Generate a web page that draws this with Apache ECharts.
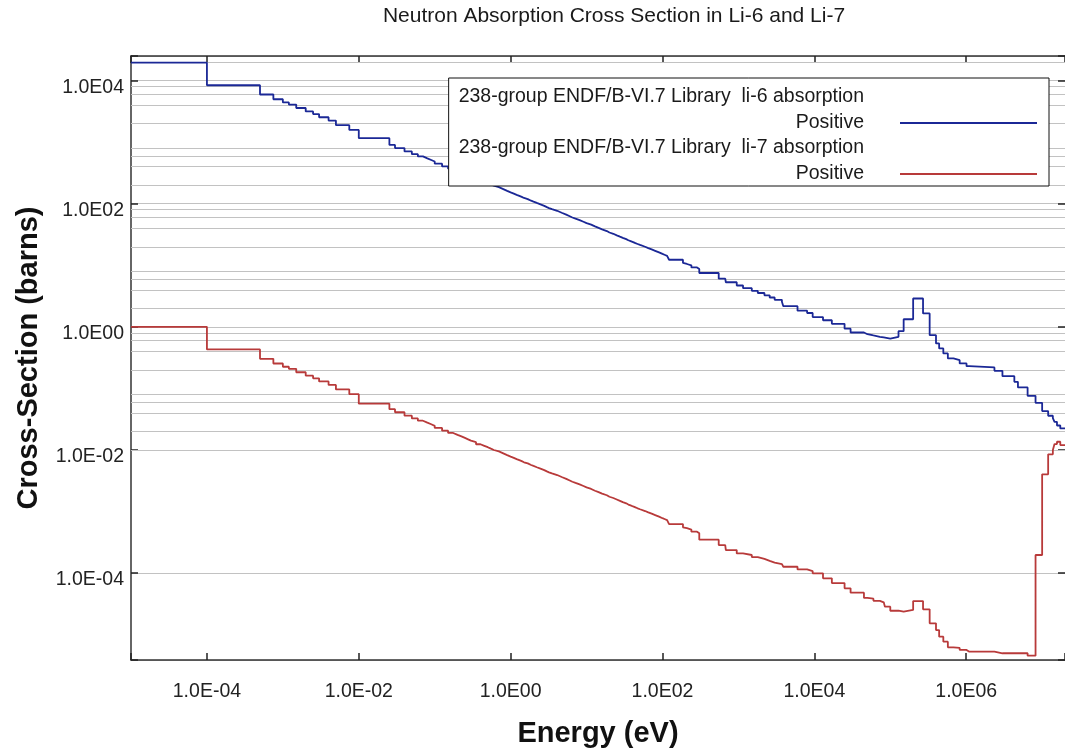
<!DOCTYPE html>
<html>
<head>
<meta charset="utf-8">
<script src="https://cdn.jsdelivr.net/npm/echarts@6/dist/echarts.min.js"></script>
<style>
html, body { margin: 0; padding: 0; background: #fff; }
#chart { width: 1065px; height: 750px; }
</style>
</head>
<body>
<div id="chart"></div>
<script>
// ---------------- data ----------------
const chartTitle = 'Neutron Absorption Cross Section in Li-6 and Li-7';
const xAxisName = 'Energy (eV)';
const yAxisName = 'Cross-Section (barns)';
const seriesNames = [
  '238-group ENDF/B-VI.7 Library  li-6 absorption',
  '238-group ENDF/B-VI.7 Library  li-7 absorption'
];
const seriesSubLabel = 'Positive';

const xTickValues = [1e-4, 1e-2, 1, 1e2, 1e4, 1e6];
const xTickLabels = ['1.0E-04', '1.0E-02', '1.0E00', '1.0E02', '1.0E04', '1.0E06'];
const yTickValues = [1e-4, 1e-2, 1, 1e2, 1e4];
const yTickLabels = ['1.0E-04', '1.0E-02', '1.0E00', '1.0E02', '1.0E04'];

const xMin = 1e-5, xMax = 2e7;
const yMin = 3.88e-6, yMax = 2.51e4;

// group boundaries (eV), ascending; group i spans energyBounds[i]..energyBounds[i+1]
const energyBounds = [
  1e-5, 1e-4, 5e-4, 7.5e-4, 1e-3, 1.2e-3, 1.5e-3, 2e-3, 2.5e-3, 3e-3,
  4e-3, 5e-3, 7.5e-3, 1e-2, 2.53e-2, 3e-2, 4e-2, 5e-2, 6e-2, 7e-2,
  8e-2, 9e-2, 0.1, 0.125, 0.15, 0.175, 0.2, 0.225, 0.25, 0.275,
  0.3, 0.35, 0.4, 0.45, 0.5, 0.55, 0.6, 0.7, 0.8, 0.9,
  1.0, 1.1, 1.2, 1.3, 1.4, 1.5, 1.68, 1.86, 2.0, 2.21,
  2.47, 2.77, 3.0, 3.2, 3.5, 4.1, 4.7, 5.4, 6.0, 6.5,
  7.15, 8.1, 9.1, 10, 11.5, 12.9, 14.4, 16, 18.5, 20,
  22.5, 25, 27.5, 30, 33.25, 35.5, 38, 41, 44, 47,
  50.6, 53.4, 59, 65, 72, 80, 90, 100, 108, 115,
  122, 186, 192.5, 210, 240, 285, 305, 550, 670, 683,
  950, 1150, 1500, 1800, 2200, 2580, 3000, 3740, 3900, 6000,
  8030, 9500, 13000, 17000, 25000, 30000, 45000, 50000, 60000, 73000,
  82000, 85000, 100000, 128300, 150000, 200000, 270000, 330000, 400000, 440000,
  499520, 573000, 679000, 820000, 1010000, 1100000, 2354000, 2479000, 3000000, 4304000,
  4800000, 6434000, 8187300, 10000000, 12000000, 13840000, 14550000, 15683000, 17333000,
  20000000
];

// Li-6 group absorption cross sections (barns)
const li6 = [
  19600, 8400, 5950, 4980, 4420, 4080, 3590, 3160, 2860, 2540,
  2240, 1890, 1580, 1160, 901, 803, 707, 639, 587, 546,
  513, 485, 447, 404, 371, 346, 325, 307, 292, 279,
  263, 244, 230, 217, 206, 197, 186, 173, 162, 153,
  146, 139.5, 134, 129, 124, 119, 112, 108, 103, 97.8,
  92.4, 88.0, 84.9, 81.7, 76.8, 71.4, 66.6, 62.7, 59.8, 57.3,
  54.2, 51.0, 48.4, 45.7, 42.8, 40.5, 38.4, 36.0, 34.1, 32.5,
  30.7, 29.2, 27.9, 26.6, 25.5, 24.7, 23.8, 22.9, 22.2, 21.4,
  20.7, 20.0, 19.0, 18.1, 17.2, 16.2, 15.3, 14.7, 14.2, 13.7,
  12.3, 10.9, 10.5, 9.98, 9.24, 8.71, 7.5, 6.07, 5.75, 5.3,
  4.7, 4.25, 3.85, 3.55, 3.25, 3.0, 2.75, 2.55, 2.17, 1.83,
  1.68, 1.44, 1.28, 1.12, 0.935, 0.81, 0.76, 0.725, 0.69, 0.675,
  0.655, 0.645, 0.69, 0.851, 1.33, 2.89, 1.65, 0.733, 0.538, 0.446,
  0.37, 0.307, 0.288, 0.255, 0.23, 0.219, 0.193, 0.193, 0.158, 0.128,
  0.104, 0.0758, 0.0584, 0.0428, 0.036, 0.033, 0.0287, 0.025, 0.0224
];

// Li-7 group absorption cross sections (barns)
const li7 = [
  1.0, 0.43, 0.303, 0.254, 0.225, 0.208, 0.183, 0.161, 0.146, 0.130,
  0.114, 0.0964, 0.0806, 0.0565, 0.046, 0.041, 0.0361, 0.0326, 0.0299, 0.0278,
  0.0262, 0.0247, 0.0228, 0.0206, 0.0189, 0.0176, 0.0166, 0.0157, 0.0149, 0.0142,
  0.0134, 0.0124, 0.0117, 0.0111, 0.0105, 0.0100, 0.00949, 0.00882, 0.00826, 0.0078,
  0.00745, 0.00711, 0.00683, 0.00658, 0.00632, 0.00607, 0.00571, 0.00551, 0.00525, 0.00499,
  0.00471, 0.00449, 0.00433, 0.00417, 0.00392, 0.00364, 0.0034, 0.0032, 0.00305, 0.00292,
  0.00276, 0.0026, 0.00247, 0.00233, 0.00218, 0.00207, 0.00196, 0.00184, 0.00174, 0.00166,
  0.00157, 0.00149, 0.00142, 0.00136, 0.0013, 0.00126, 0.00121, 0.00117, 0.00113, 0.00109,
  0.00106, 0.00102, 0.00097, 0.000923, 0.000877, 0.000826, 0.00078, 0.00075, 0.000724, 0.000699,
  0.000627, 0.000556, 0.000536, 0.000509, 0.000471, 0.000444, 0.00035, 0.000285, 0.000275, 0.000237,
  0.000209, 0.000197, 0.000182, 0.00017, 0.000158, 0.000148, 0.00014, 0.000136, 0.000127, 0.000115,
  0.000108, 0.0000993, 0.0000824, 0.000069, 0.0000566, 0.0000481, 0.0000395, 0.0000385, 0.0000355, 0.0000335,
  0.0000312, 0.0000285, 0.0000245, 0.0000236, 0.0000252, 0.0000352, 0.0000258, 0.0000153, 0.0000119, 0.00000928,
  0.0000077, 0.00000624, 0.0000061, 0.00000565, 0.0000053, 0.0000053, 0.0000053, 0.00000499, 0.00000499, 0.00000499,
  0.00000499, 0.00000456, 0.000197, 0.00402, 0.0085, 0.01, 0.0125, 0.0136, 0.012
];

// ---------------- helpers ----------------
function stepData(vals) {
  const d = vals.map((v, i) => [energyBounds[i], v]);
  d.push([energyBounds[vals.length], vals[vals.length - 1]]);
  return d;
}
function tickLabel(values, labels) {
  return function (v) {
    for (let i = 0; i < values.length; i++) {
      if (Math.abs(Math.log10(v) - Math.log10(values[i])) < 1e-6) return labels[i];
    }
    return '';
  };
}
// light horizontal grid at 2,4,6,8 x 10^n
const minorGrid = [];
for (let n = -4; n <= 4; n++) {
  [2, 4, 6, 8].forEach(m => { const v = m * Math.pow(10, n); if (v < yMax) minorGrid.push(v); });
}

const FONT = 'Liberation Sans, Arial, sans-serif';
const gridColor = '#c2c2c2';
const frameColor = '#333';
const blue = '#1b2896';
const red = '#b83a3a';

const chart = echarts.init(document.getElementById('chart'), null, { renderer: 'canvas' });

const commonTick = { show: true, inside: true, length: 7, lineStyle: { color: '#222', width: 1.5 } };

chart.setOption({
  animation: false,
  backgroundColor: '#fff',
  title: {
    text: chartTitle,
    left: 614,
    top: 5,
    padding: 0,
    textAlign: 'center',
    textStyle: { fontFamily: FONT, fontSize: 21, fontWeight: 'normal', color: '#1a1a1a', lineHeight: 22 }
  },
  legend: {
    orient: 'vertical',
    right: 16,
    top: 78,
    align: 'right',
    icon: 'rect',
    itemWidth: 137,
    itemHeight: 2,
    itemGap: -27,
    padding: [6, 12, -27, 10],
    backgroundColor: '#fff',
    borderColor: '#111',
    borderWidth: 1,
    selectedMode: false,
    data: [
      { name: seriesNames[0], itemStyle: { color: blue } },
      { name: seriesNames[1], itemStyle: { color: red } }
    ],
    formatter: name => name + '\n' + seriesSubLabel + '\n ',
    textStyle: {
      fontFamily: FONT, fontSize: 19.5, color: '#1a1a1a',
      lineHeight: 26, align: 'right', padding: [0, 31, 0, 0]
    }
  },
  grid: { left: 131, right: 0, top: 56, bottom: 90, containLabel: false, outerBoundsMode: 'none' },
  xAxis: [
    {
      type: 'log', logBase: 100, min: xMin, max: xMax, position: 'bottom',
      name: xAxisName, nameLocation: 'middle', nameGap: 59,
      nameTextStyle: { fontFamily: FONT, fontSize: 29, fontWeight: 'bold', color: '#111', lineHeight: 29 },
      axisLine: { show: true, lineStyle: { color: frameColor, width: 1.5 } },
      axisTick: commonTick,
      axisLabel: {
        show: true, margin: 22, fontFamily: FONT, fontSize: 19.5, color: '#222', lineHeight: 19,
        formatter: tickLabel(xTickValues, xTickLabels)
      },
      splitLine: { show: false },
      minorTick: { show: false }, minorSplitLine: { show: false }
    },
    {
      type: 'log', logBase: 100, min: xMin, max: xMax, position: 'top',
      axisLine: { show: true, lineStyle: { color: frameColor, width: 1.5 } },
      axisTick: commonTick,
      axisLabel: { show: false },
      splitLine: { show: false }
    }
  ],
  yAxis: [
    {
      type: 'log', logBase: 100, min: yMin, max: yMax, position: 'left',
      name: yAxisName, nameLocation: 'middle', nameGap: 88,
      nameTextStyle: { fontFamily: FONT, fontSize: 29, fontWeight: 'bold', color: '#111', lineHeight: 29 },
      axisLine: { show: true, lineStyle: { color: frameColor, width: 1.5 } },
      axisTick: commonTick,
      axisLabel: {
        show: true, margin: 7, fontFamily: FONT, fontSize: 19.5, color: '#222',
        lineHeight: 14, verticalAlign: 'top',
        formatter: tickLabel(yTickValues, yTickLabels)
      },
      splitLine: { show: true, lineStyle: { color: gridColor, width: 1.2 } }
    },
    {
      type: 'log', logBase: 100, min: yMin, max: yMax, position: 'right',
      axisLine: { show: false },
      axisTick: commonTick,
      axisLabel: { show: false },
      splitLine: { show: false }
    }
  ],
  series: [
    {
      name: seriesNames[0],
      type: 'line',
      step: 'end',
      xAxisIndex: 0, yAxisIndex: 0,
      data: stepData(li6),
      symbol: 'none',
      showSymbol: false,
      z: 3,
      lineStyle: { color: blue, width: 1.8 },
      itemStyle: { color: blue },
      markLine: {
        silent: true,
        z: 1,
        symbol: ['none', 'none'],
        label: { show: false },
        lineStyle: { color: gridColor, width: 1.2, type: 'solid' },
        emphasis: { disabled: true },
        animation: false,
        data: minorGrid.map(v => ({ yAxis: v }))
      }
    },
    {
      name: seriesNames[1],
      type: 'line',
      step: 'end',
      xAxisIndex: 0, yAxisIndex: 0,
      data: stepData(li7),
      symbol: 'none',
      showSymbol: false,
      z: 3,
      lineStyle: { color: red, width: 1.8 },
      itemStyle: { color: red }
    }
  ]
});
</script>
</body>
</html>
